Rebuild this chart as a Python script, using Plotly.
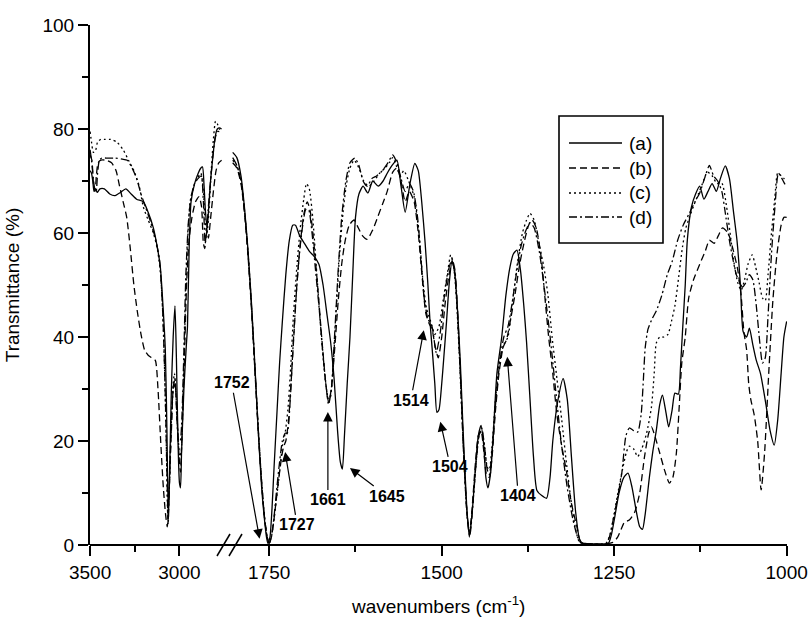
import plotly.graph_objects as go

# ---------------- spectra (wavenumber in cm-1, transmittance in %) ----------------
# high-wavenumber window (3500 - 2750 cm-1)
left_wn_a = [3500, 3492, 3485, 3478, 3470, 3460, 3445, 3420, 3390, 3360, 3330, 3300, 3270, 3240,
             3202, 3175, 3146, 3125, 3107, 3092, 3079, 3070, 3062, 3055, 3045, 3035, 3025, 3017,
             3008, 3000, 2994, 2988, 2975, 2962, 2955, 2945, 2935, 2915, 2895, 2880, 2871, 2862,
             2854, 2845, 2836, 2826, 2812, 2800, 2788, 2776, 2764]
left_t_a = [72, 71.5, 70, 68, 68.5, 67.8, 68.5, 68.5, 67.5, 67.2, 67.8, 68.5, 67.5, 66.5,
            66, 64, 61, 57.5, 53.5, 46, 37.5, 22, 5, 14, 30, 40, 46, 36,
            20, 12, 11, 18, 30, 38, 42, 58, 66, 69.5, 71.5, 72.5, 72.7, 69,
            64, 61, 65, 70, 75, 78.5, 80, 80.2, 80]

left_wn_b = [3500, 3490, 3480, 3472, 3465, 3455, 3440, 3410, 3380, 3355, 3335, 3315, 3295, 3275,
             3255, 3236, 3215, 3195, 3175, 3155, 3135, 3120, 3105, 3090, 3078, 3068, 3058, 3045,
             3032, 3022, 3010, 3000, 2994, 2985, 2972, 2960, 2948, 2930, 2910, 2890, 2876, 2866,
             2858, 2848, 2838, 2825, 2810, 2795, 2780, 2764]
left_t_b = [75, 74, 69, 68, 71, 73.5, 74, 74, 73.5, 72, 69, 66, 63, 57,
            50, 45, 40.5, 37.5, 36.5, 36, 35.5, 30, 20, 11, 6, 3.5, 10, 22,
            31, 30, 22, 16, 14, 22, 36, 50, 58, 63, 66, 67, 65, 58,
            57, 61, 59, 63, 68, 72, 73.5, 74]

left_wn_c = [3500, 3492, 3482, 3470, 3458, 3440, 3415, 3385, 3350, 3315, 3285, 3255, 3225, 3202,
             3175, 3146, 3124, 3105, 3088, 3075, 3065, 3056, 3045, 3035, 3028, 3018, 3006, 2998,
             2990, 2980, 2968, 2955, 2940, 2920, 2900, 2880, 2866, 2856, 2846, 2835, 2822, 2810,
             2798, 2788, 2776, 2764]
left_t_c = [79.5, 77.5, 75.5, 75.8, 77.5, 78, 78, 78, 77.5, 76, 74, 72, 69, 65,
            62.5, 60, 57, 52, 40, 22, 5.5, 12, 24, 31, 33, 28, 20, 17,
            18, 28, 44, 58, 66, 69, 70.5, 71.5, 68, 62, 60, 64, 72, 78,
            81.5, 81, 80, 79.5]

left_wn_d = [3500, 3492, 3482, 3474, 3466, 3458, 3448, 3435, 3400, 3360, 3320, 3292, 3265, 3240,
             3215, 3190, 3160, 3135, 3112, 3095, 3080, 3070, 3063, 3055, 3045, 3035, 3025, 3014,
             3004, 2996, 2988, 2976, 2964, 2950, 2935, 2915, 2895, 2878, 2866, 2856, 2848, 2838,
             2826, 2812, 2798, 2786, 2774, 2764]
left_t_d = [76, 74, 70.5, 68.5, 68, 71.5, 74, 74.4, 74.4, 74.4, 74.2, 74, 72.5, 70.5,
            67.5, 65, 62, 59, 55, 46, 30, 14, 4, 13, 24, 30, 32, 24,
            20, 20, 23, 36, 52, 62, 67, 69.5, 70.5, 71, 66, 58, 60, 65,
            70, 75, 78.5, 79.5, 79.5, 79.5]

# fingerprint window (1800 - 1000 cm-1)
right_wn_a = [1803, 1797, 1791, 1786, 1781, 1776, 1771, 1766, 1761, 1757, 1754, 1752, 1749, 1746,
              1743, 1739, 1735, 1731, 1726, 1721, 1716, 1712, 1706, 1699, 1692, 1685, 1678, 1672,
              1666, 1661, 1656, 1651, 1647, 1644, 1641, 1637, 1633, 1629, 1625, 1620, 1614, 1607,
              1600, 1592, 1585, 1579, 1572, 1565, 1559, 1553, 1546, 1539, 1534, 1529, 1524, 1520,
              1517, 1514, 1510, 1507, 1504, 1500, 1497, 1493, 1489, 1485, 1481, 1477, 1473, 1469,
              1464, 1460, 1456, 1451, 1447, 1443, 1439, 1436, 1433, 1429, 1425, 1420, 1413, 1407,
              1401, 1396, 1391, 1386, 1381, 1377, 1372, 1367, 1362, 1355, 1348, 1343, 1339, 1332,
              1324, 1318, 1312, 1306, 1300, 1295, 1280, 1265, 1258, 1254, 1249, 1243, 1236, 1230,
              1224, 1218, 1213, 1209, 1205, 1199, 1194, 1189, 1184, 1180, 1175, 1171, 1166, 1162,
              1157, 1154, 1151, 1147, 1144, 1138, 1132, 1126, 1120, 1114, 1108, 1102, 1096, 1089,
              1083, 1077, 1072, 1067, 1063, 1058, 1054, 1049, 1044, 1038, 1030, 1024, 1018, 1013,
              1008, 1004, 1000]
right_t_a = [75.5, 74.5, 71, 65, 57, 47, 35, 22, 11, 5, 1.5, 0.3, 1.5, 7,
             15, 25, 35, 43, 52, 58.5, 61.5, 61.5, 59.5, 58, 56.5, 55.5, 54, 50,
             44, 39, 32, 22, 16, 14.6, 21, 31, 40, 52, 63, 67.5, 69, 67.7,
             70, 69, 70, 71.5, 73, 74, 69, 64, 69.5, 73.4, 72, 66, 58, 50,
             43, 38, 31, 25.5, 26, 31, 36, 43, 50.5, 54.8, 52, 45, 35, 22,
             8, 1.5, 6, 15, 21, 23, 19, 13, 11, 14, 22, 33, 40, 48,
             53.5, 56, 56.7, 53, 46, 39, 28, 17, 10.5, 9.5, 9, 13, 20, 27.5,
             32, 28, 17, 6.5, 1, 0.3, 0.2, 0.2, 0.4, 2, 5.5, 10, 13, 13.8,
             11, 6.5, 3.5, 3, 6, 13, 18, 22, 27, 28.8, 25.5, 22.7, 26, 29.2,
             29, 34, 41, 50, 58.6, 65, 67.5, 69, 66.5, 68, 69.5, 68, 70.5, 72.9,
             70.5, 64, 58.6, 50, 41, 40, 41.7, 38.5, 35.5, 33, 27, 22, 19.2, 24,
             33, 40, 43]

right_wn_b = [1803, 1797, 1791, 1786, 1781, 1776, 1771, 1766, 1761, 1757, 1753, 1750, 1747, 1744,
              1740, 1736, 1732, 1729, 1726, 1722, 1718, 1714, 1710, 1705, 1700, 1695, 1691, 1686,
              1680, 1674, 1668, 1664, 1660, 1655, 1650, 1645, 1640, 1634, 1627, 1621, 1615, 1608,
              1600, 1593, 1586, 1579, 1571, 1565, 1559, 1553, 1547, 1540, 1534, 1528, 1523, 1518,
              1514, 1510, 1505, 1500, 1495, 1490, 1485, 1481, 1477, 1473, 1469, 1464, 1460, 1456,
              1451, 1447, 1443, 1439, 1435, 1431, 1427, 1422, 1417, 1411, 1406, 1400, 1394, 1387,
              1380, 1374, 1369, 1363, 1356, 1350, 1345, 1339, 1333, 1326, 1319, 1312, 1304, 1298,
              1280, 1262, 1252, 1245, 1240, 1235, 1228, 1220, 1213, 1206, 1200, 1196, 1190, 1184,
              1177, 1170, 1165, 1160, 1156, 1152, 1147, 1142, 1135, 1126, 1118, 1112, 1105, 1099,
              1093, 1085, 1078, 1071, 1066, 1062, 1058, 1055, 1052, 1047, 1042, 1037, 1032, 1026,
              1020, 1014, 1008, 1004, 1000]
right_t_b = [73.5, 72.5, 69.5, 64, 56, 46, 34, 22, 12, 5.5, 1.5, 0.3, 1.5, 4,
             8.5, 13, 17, 19, 20, 24, 32, 41, 50, 58, 63.5, 66, 64.5, 59,
             50, 40, 31, 27.5, 30, 38, 47, 54, 58.5, 61.5, 62.5, 61, 59.5, 58.8,
             60.6, 63, 65.5, 68, 71.7, 72.5, 70, 66, 68, 66, 60, 51, 44.5, 42.5,
             41.5, 38.5, 36, 40, 46.5, 51.5, 54.5, 52.5, 44, 33, 20, 7, 2, 7,
             16, 21, 22, 18, 13.5, 13, 17, 26, 33, 38, 39.5, 43.5, 48, 54,
             58.5, 61.5, 62.5, 61, 55.5, 47, 40, 33, 25, 19, 14, 8, 3.5, 0.5,
             0.2, 0.2, 0.5, 1.5, 3, 4.4, 4.8, 6.4, 10, 17, 21.5, 22.7, 20.5, 17.7,
             14.4, 11.9, 13, 17.5, 26, 35, 40, 47.5, 51, 54, 56.5, 58.6, 58, 59.5,
             61, 60, 57, 53, 48, 41, 37.5, 31, 28, 25, 20, 10.6, 17.7, 33,
             47, 56, 61.5, 63, 63]

right_wn_c = [1803, 1797, 1791, 1786, 1781, 1776, 1771, 1766, 1761, 1757, 1753, 1750, 1747, 1743,
              1739, 1735, 1731, 1727, 1723, 1719, 1715, 1710, 1705, 1700, 1696, 1692, 1687, 1681,
              1675, 1669, 1665, 1662, 1658, 1653, 1648, 1643, 1638, 1633, 1627, 1620, 1613, 1606,
              1598, 1590, 1582, 1576, 1571, 1566, 1560, 1555, 1548, 1540, 1533, 1527, 1522, 1516,
              1510, 1504, 1498, 1492, 1487, 1483, 1479, 1475, 1471, 1466, 1462, 1459, 1455, 1450,
              1446, 1442, 1438, 1434, 1431, 1427, 1422, 1416, 1410, 1404, 1398, 1390, 1383, 1377,
              1372, 1366, 1359, 1352, 1346, 1340, 1333, 1326, 1319, 1312, 1305, 1300, 1280, 1262,
              1256, 1250, 1244, 1238, 1232, 1228, 1222, 1216, 1210, 1203, 1196, 1192, 1189, 1184,
              1178, 1172, 1167, 1162, 1157, 1151, 1146, 1141, 1134, 1128, 1122, 1115, 1108, 1101,
              1094, 1087, 1081, 1076, 1071, 1066, 1061, 1056, 1050, 1045, 1040, 1035, 1031, 1027,
              1022, 1017, 1013, 1008, 1004, 1000]
right_t_c = [74, 73, 70, 64.5, 56.5, 46.5, 34.5, 22.5, 12, 5.5, 1.5, 0.3, 1.5, 5,
             9.5, 14, 19, 21.5, 26, 34, 44, 53.5, 61, 66.5, 69.5, 68.5, 63, 52,
             41, 32, 28.5, 28, 33, 45, 56, 64, 69.5, 72.5, 74, 72.5, 70, 69,
             70, 71.5, 72.5, 73.5, 74.5, 73, 71, 72, 70, 67, 60, 50.5, 45.5, 43,
             40.5, 42, 47, 52, 55.8, 54, 48, 38, 26, 12, 4, 2.5, 8, 16,
             21, 22, 19, 15, 14.5, 19, 28, 35.5, 38.5, 40, 46, 54.5, 60, 62.5,
             63.8, 62.5, 58, 53.5, 48, 40, 32, 24, 15.5, 8, 2.5, 0.5, 0.2, 0.3,
             2, 6, 10.5, 14.5, 18, 19, 18.5, 17, 18.5, 21.5, 26.5, 33, 38.8, 40,
             40, 40.5, 43, 46, 51, 57.3, 61, 63, 65.5, 67.5, 69.5, 71.7, 71, 69.5,
             69.6, 65, 59, 54, 50.5, 49, 51, 54, 55.8, 53.5, 50.5, 47.5, 47, 52,
             60, 67, 71.5, 71, 70.5, 70]

right_wn_d = [1803, 1797, 1791, 1786, 1781, 1776, 1771, 1766, 1761, 1757, 1753, 1750, 1747, 1743,
              1739, 1735, 1731, 1727, 1724, 1720, 1716, 1712, 1707, 1702, 1697, 1693, 1688, 1683,
              1678, 1673, 1668, 1664, 1660, 1655, 1650, 1645, 1639, 1633, 1626, 1620, 1614, 1608,
              1601, 1594, 1586, 1578, 1571, 1565, 1559, 1553, 1547, 1541, 1535, 1530, 1525, 1520,
              1514, 1508, 1502, 1496, 1490, 1485, 1481, 1477, 1473, 1468, 1463, 1459, 1455, 1450,
              1446, 1442, 1438, 1434, 1431, 1427, 1422, 1416, 1410, 1404, 1398, 1392, 1385, 1378,
              1372, 1366, 1358, 1350, 1342, 1335, 1327, 1318, 1310, 1303, 1298, 1280, 1262, 1257,
              1252, 1246, 1239, 1233, 1228, 1222, 1216, 1211, 1208, 1205, 1201, 1195, 1189, 1181,
              1173, 1166, 1158, 1150, 1141, 1133, 1126, 1119, 1112, 1106, 1100, 1094, 1088, 1083,
              1078, 1073, 1068, 1064, 1059, 1054, 1049, 1044, 1039, 1035, 1031, 1027, 1022, 1017,
              1012, 1007, 1003, 1000]
right_t_d = [74.5, 73, 70, 64.5, 56.5, 46.5, 34.5, 22.5, 12, 5.5, 1.5, 0.3, 1.5, 5.5,
             11, 16, 20, 21.5, 21.5, 27, 37, 46, 55, 61, 64.5, 64.5, 60, 53,
             46, 38, 31, 27, 30, 41, 53, 63, 70, 73.5, 74.4, 73, 70, 69,
             70.5, 71, 72, 73.5, 75, 73.5, 70.5, 68, 69.5, 68, 63, 55, 47, 43.5,
             42, 37, 41, 48, 53, 55, 53, 45, 33, 17, 5.5, 2, 7.5, 16,
             21, 22.5, 19, 14.5, 13.5, 18, 27, 35, 40, 42, 46.5, 52, 57.5, 60.5,
             62, 61, 56, 48, 39, 30, 20, 11, 5, 1.5, 0.4, 0.2, 0.2, 1.5,
             4.5, 8.5, 13.8, 21, 22.5, 22, 21.7, 25, 31, 38, 41.5, 43.5, 45, 48,
             52, 54.5, 58.6, 61.5, 63.8, 66, 67.7, 70.5, 73, 71, 70, 68, 63, 58.6,
             55, 52, 50.5, 49.6, 50.5, 52, 51, 46, 39, 35, 36, 44, 56, 65,
             71.5, 70.5, 69.5, 69]

series_names = ["(a)", "(b)", "(c)", "(d)"]
left_wn = [left_wn_a, left_wn_b, left_wn_c, left_wn_d]
left_t = [left_t_a, left_t_b, left_t_c, left_t_d]
right_wn = [right_wn_a, right_wn_b, right_wn_c, right_wn_d]
right_t = [right_t_a, right_t_b, right_t_c, right_t_d]

# band assignments marked with arrows: label, arrow tip (cm-1, %), text offset (px)
band_labels = ["1752", "1727", "1661", "1645", "1514", "1504", "1404"]
band_tip_wn = [1764, 1727, 1665, 1633, 1526, 1502, 1405]
band_tip_t = [1.2, 17.9, 25.6, 14.8, 41.3, 23.7, 36.2]
band_offset = [(-28, -156), (12, 73), (0, 88), (37, 28), (-13, 70), (10, 45), (11, 139)]

# ---------------- styling ----------------
FONT = "Liberation Sans, Arial, Helvetica, sans-serif"
dashes = ["solid", "7px,4px", "2px,3px", "8px,3px,2px,3px"]
LINE_W = 1.3

fig = go.Figure()
for i, name in enumerate(series_names):
    fig.add_trace(go.Scatter(x=left_wn[i], y=left_t[i], mode="lines", name=name,
                             line=dict(color="black", width=LINE_W, dash=dashes[i],
                                       shape="spline", smoothing=0.6),
                             xaxis="x", yaxis="y", showlegend=False))
    fig.add_trace(go.Scatter(x=right_wn[i], y=right_t[i], mode="lines", name=name,
                             line=dict(color="black", width=LINE_W, dash=dashes[i],
                                       shape="spline", smoothing=0.6),
                             xaxis="x2", yaxis="y", showlegend=False))

W, H = 808, 621
ML, MR, MT, MB = 90, 21, 25, 76
PW = W - ML - MR
PH = H - MT - MB


def px_x(px):
    return (px - ML) / PW


def px_y(py):
    return (H - MB - py) / PH


split_l = px_x(225)
split_r = px_x(232)

tickfont = dict(family=FONT, size=19, color="black")
common_x = dict(showgrid=False, zeroline=False, showline=False, ticks="outside",
                ticklen=10, tickwidth=1.6, tickcolor="black", tickfont=tickfont,
                anchor="y", automargin=False)

fig.update_layout(
    width=W, height=H,
    margin=dict(l=ML, r=MR, t=MT, b=MB, autoexpand=False),
    paper_bgcolor="white", plot_bgcolor="white",
    font=dict(family=FONT, color="black"),
    xaxis=dict(domain=[0, split_l], range=[3500.5, 2745], tickmode="array",
               tickvals=[3500, 3000], ticktext=["3500", "3000"],
               minor=dict(tickmode="array", tickvals=[3250], ticklen=6, tickwidth=1.6,
                          ticks="outside", tickcolor="black"),
               **common_x),
    xaxis2=dict(domain=[split_r, 1], range=[1804, 999.5], tickmode="array",
                tickvals=[1750, 1500, 1250, 1000],
                ticktext=["1750", "1500", "1250", "1000"],
                minor=dict(tickmode="array", tickvals=[1625, 1375, 1125], ticklen=6,
                           tickwidth=1.6, ticks="outside", tickcolor="black"),
                **common_x),
    yaxis=dict(range=[0, 100], tickmode="linear", tick0=0, dtick=20,
               showgrid=False, zeroline=False, showline=True, linecolor="black",
               linewidth=2, ticks="outside", ticklen=10, tickwidth=1.6,
               tickcolor="black", tickfont=tickfont, automargin=False,
               minor=dict(tickmode="linear", tick0=0, dtick=10, ticklen=6,
                          tickwidth=1.6, ticks="outside", tickcolor="black"),
               title=dict(text="Transmittance (%)", font=dict(family=FONT, size=19),
                          standoff=18)),
)

shapes = [
    # bottom axis line spanning both windows
    dict(type="line", xref="paper", yref="paper", x0=0, x1=1, y0=0, y1=0,
         line=dict(color="black", width=2)),
    # axis break marks
    dict(type="line", xref="paper", yref="paper", x0=px_x(217), y0=px_y(556),
         x1=px_x(230), y1=px_y(534), line=dict(color="black", width=1.5)),
    dict(type="line", xref="paper", yref="paper", x0=px_x(229), y0=px_y(556),
         x1=px_x(242), y1=px_y(534), line=dict(color="black", width=1.5)),
    # legend frame
    dict(type="rect", xref="paper", yref="paper", x0=px_x(559), x1=px_x(663),
         y0=px_y(243), y1=px_y(116), line=dict(color="black", width=1.6),
         fillcolor="white", layer="above"),
]

annotations = []
legend_rows = [143, 168, 193, 217]
for i, name in enumerate(series_names):
    shapes.append(dict(type="line", xref="paper", yref="paper",
                       x0=px_x(569), x1=px_x(622), y0=px_y(legend_rows[i]),
                       y1=px_y(legend_rows[i]), layer="above",
                       line=dict(color="black", width=LINE_W, dash=dashes[i])))
    annotations.append(dict(xref="paper", yref="paper", x=px_x(627), y=px_y(legend_rows[i]),
                            text=name, showarrow=False, xanchor="left", yanchor="middle",
                            font=dict(family=FONT, size=19, color="black")))

for lab, wx, ty, (dx, dy) in zip(band_labels, band_tip_wn, band_tip_t, band_offset):
    annotations.append(dict(xref="x2", yref="y", x=wx, y=ty, text="<b>%s</b>" % lab,
                            showarrow=True, ax=dx, ay=dy, axref="pixel", ayref="pixel",
                            arrowhead=2, arrowsize=1.6, arrowwidth=1.2, arrowcolor="black",
                            standoff=0, font=dict(family=FONT, size=16, color="black")))

annotations.append(dict(xref="paper", yref="paper", x=px_x(438), y=px_y(605),
                        text="wavenumbers (cm<sup>-1</sup>)", showarrow=False,
                        xanchor="center", yanchor="middle",
                        font=dict(family=FONT, size=19, color="black")))

fig.update_layout(shapes=shapes, annotations=annotations)

fig.write_html("out.html")
